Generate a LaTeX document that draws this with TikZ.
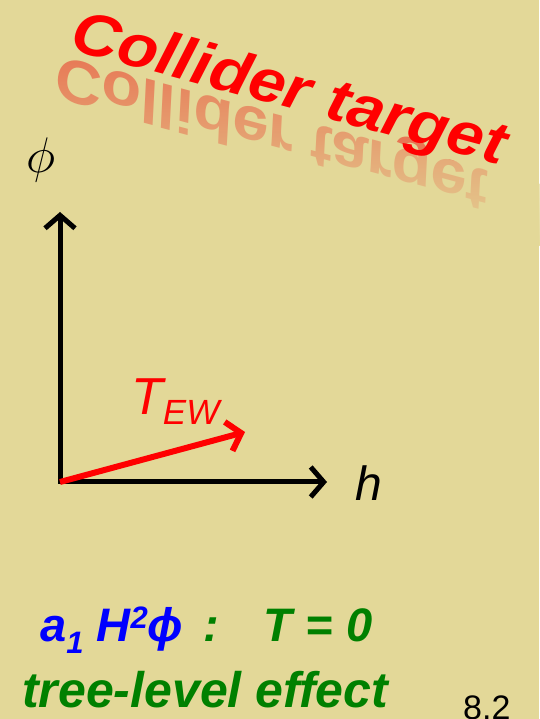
\RequirePackage{fix-cm}
\documentclass[tikz,border=0pt]{standalone}
\usepackage{fontspec}
\setmainfont{Liberation Sans}
\usetikzlibrary{arrows.meta,fadings}
\definecolor{slidebg}{RGB}{227,216,152}
\definecolor{reflred}{RGB}{232,118,84}
\definecolor{darkgreen}{RGB}{0,128,0}
\tikzset{
	>={Straight Barb[length=13pt,width=30pt]},
	axes/.style={line width=5pt, <->},
	titlefont/.style={font=\fontsize{60}{60}\selectfont\bfseries\itshape},
	bigbi/.style={font=\fontsize{47}{47}\selectfont\bfseries\itshape},
}
\begin{document}
\begin{tikzpicture}[x=1pt,y=1pt]
			\fill[slidebg] (0,0) rectangle (539,719);
			\useasboundingbox (0,0) rectangle (539,719);
			\begin{scope}[shift={(68,670)}, rotate=-15]
				\node[transform shape, anchor=base west, inner sep=0pt, titlefont, text=reflred, xscale=1.1, yscale=-1](titlerefl) at (-6,-9){Collider target};
				\fill[slidebg, path fading=north] (-30,-8) rectangle (530,-68);
				\node[transform shape, anchor=base west, inner sep=0pt, titlefont, text=red, xscale=1.1](title) at (0,0){Collider target};
			\end{scope}
			\coordinate (O) at (60,237);
			\coordinate (phiend) at (60,507);
			\coordinate (hend) at (327,237);
			\coordinate (ewend) at (245,287);
			\draw[axes] (phiend) -- (O) -- (hend);
			\draw[line width=6pt, red, ->] (O) -- (ewend);
			\node[inner sep=0pt](phi) at (41,559){\fontsize{50}{50}\selectfont$\phi$};
			\node[inner sep=0pt](h) at (369,236){\fontsize{48}{48}\selectfont\itshape h};
			\node[anchor=base west, inner sep=0pt, text=red, font=\fontsize{52}{52}\selectfont\itshape](tew) at (131,304){T\raisebox{-10pt}{\fontsize{35}{35}\selectfont EW}};
			\node[anchor=base west, inner sep=0pt, bigbi, text=blue](coupling) at (40,77){a\raisebox{-12pt}{\fontsize{31}{31}\selectfont 1} H\raisebox{13pt}{\fontsize{31}{31}\selectfont 2}ϕ};
			\node[anchor=base west, inner sep=0pt, bigbi, text=darkgreen](tzero) at (203,77){:\hspace{45pt}T = 0};
			\node[anchor=base west, inner sep=0pt, font=\fontsize{50}{50}\selectfont\bfseries\itshape, text=darkgreen](tree) at (22,11){tree-level effect};
			\node[anchor=base west, inner sep=0pt, font=\fontsize{34}{34}\selectfont](pagenum) at (463,-1){8.2};
\end{tikzpicture}
\end{document}
